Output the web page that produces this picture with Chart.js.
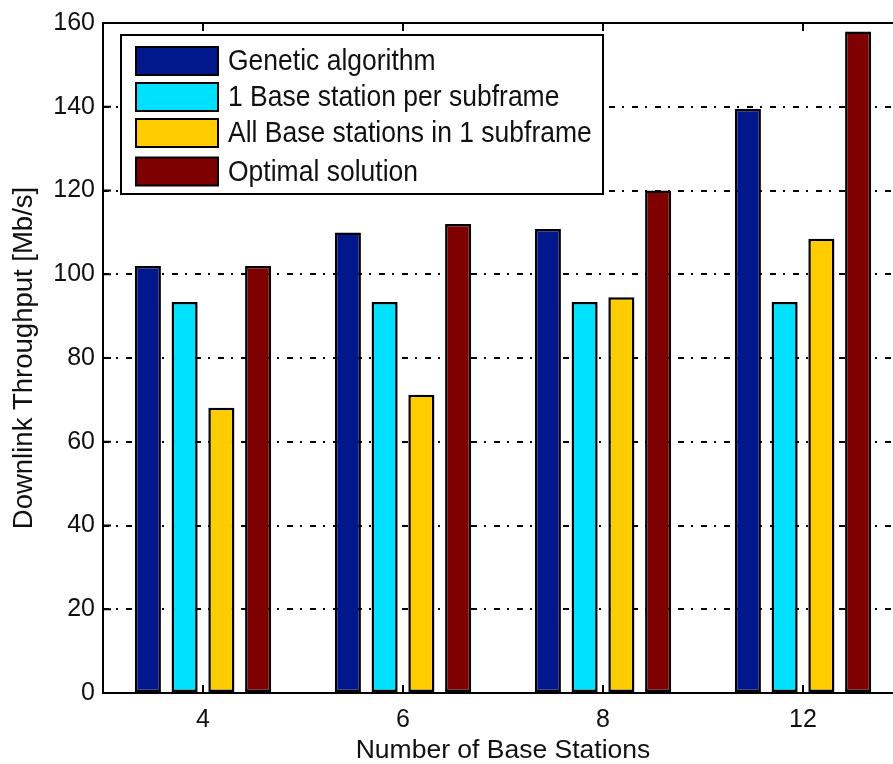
<!DOCTYPE html>
<html>
<head>
<meta charset="utf-8">
<script src="https://cdn.jsdelivr.net/npm/chart.js@4/dist/chart.umd.min.js"></script>
<style>
html,body{margin:0;padding:0;background:#fff;overflow:hidden;width:893px;height:764px;}
#wrap{position:absolute;left:0;top:0;width:905px;height:764px;}
</style>
</head>
<body>
<div id="wrap"><canvas id="c"></canvas></div>
<script>
const categories = ['4', '6', '8', '12'];
const seriesNames = ['Genetic algorithm', '1 Base station per subframe', 'All Base stations in 1 subframe', 'Optimal solution'];
const geneticAlgorithm = [102, 110, 110.8, 139.5];
const oneBasePerSubframe = [93.4, 93.4, 93.4, 93.4];
const allBaseInOneSubframe = [68.1, 71.2, 94.5, 108.5];
const optimalSolution = [102, 112, 120, 158];
const yTicks = [0, 20, 40, 60, 80, 100, 120, 140, 160];
const colors = ['#00188C', '#00E1FF', '#FFCC00', '#7F0000'];
const xTitle = 'Number of Base Stations';
const yTitle = 'Downlink Throughput [Mb/s]';

const FONT = "'Liberation Sans', Arial, Helvetica, sans-serif";
const seriesData = [geneticAlgorithm, oneBasePerSubframe, allBaseInOneSubframe, optimalSolution];

const framePlugin = {
  id: 'frame',
  afterDatasetsDraw(chart) {
    const ctx = chart.ctx, a = chart.chartArea;
    const xs = chart.scales.x, ys = chart.scales.y;
    ctx.save();
    ctx.strokeStyle = '#000';
    ctx.lineWidth = 2;
    ctx.setLineDash([]);
    ctx.strokeRect(a.left, a.top, a.right - a.left, a.bottom - a.top);
    ctx.beginPath();
    yTicks.forEach(v => {
      const y = ys.getPixelForValue(v);
      ctx.moveTo(a.left, y); ctx.lineTo(a.left + 8, y);
      ctx.moveTo(a.right, y); ctx.lineTo(a.right - 8, y);
    });
    categories.forEach((c, i) => {
      const x = xs.getPixelForTick(i);
      ctx.moveTo(x, a.bottom); ctx.lineTo(x, a.bottom - 8);
      ctx.moveTo(x, a.top); ctx.lineTo(x, a.top + 8);
    });
    ctx.stroke();
    ctx.restore();
  }
};

const legendPlugin = {
  id: 'boxLegend',
  afterDraw(chart) {
    const ctx = chart.ctx;
    const bx = 121, by = 35, bw = 482, bh = 159;
    ctx.save();
    ctx.fillStyle = '#fff';
    ctx.fillRect(bx, by, bw, bh);
    ctx.strokeStyle = '#000';
    ctx.lineWidth = 2;
    ctx.strokeRect(bx, by, bw, bh);
    const rows = [61, 97, 133, 171.5];
    chart.data.datasets.forEach((ds, i) => {
      const cy = rows[i];
      ctx.fillStyle = ds.backgroundColor;
      ctx.fillRect(136, cy - 14, 82, 28);
      ctx.lineWidth = 2;
      ctx.strokeStyle = '#000';
      ctx.strokeRect(136, cy - 14, 82, 28);
      ctx.fillStyle = '#111';
      ctx.font = '26.5px ' + FONT;
      ctx.textBaseline = 'middle';
      ctx.textAlign = 'left';
      ctx.save();
      ctx.translate(228, cy + 1);
      ctx.scale(1, 1.1);
      ctx.fillText(ds.label, 0, 0);
      ctx.restore();
    });
    ctx.restore();
  }
};

new Chart(document.getElementById('c'), {
  type: 'bar',
  data: {
    labels: categories,
    datasets: seriesNames.map((n, i) => ({
      label: n,
      data: seriesData[i],
      backgroundColor: colors[i],
      borderColor: '#000',
      borderWidth: 2.5,
      borderSkipped: false,
      categoryPercentage: 0.735,
      barPercentage: 0.71
    }))
  },
  options: {
    responsive: true,
    maintainAspectRatio: false,
    animation: false,
    devicePixelRatio: 1,
    layout: { padding: { top: 21, right: 2, left: 0, bottom: 0 } },
    plugins: { legend: { display: false }, tooltip: { enabled: false } },
    scales: {
      x: {
        grid: { display: false, drawTicks: false },
        border: { display: false },
        ticks: { color: '#111', font: { family: FONT, size: 25 }, padding: 12 },
        title: { display: true, text: xTitle, color: '#111', font: { family: FONT, size: 26.5, lineHeight: 1.02 }, padding: 0 },
        afterFit(s) { s.height = 71; }
      },
      y: {
        min: 0, max: 160,
        afterBuildTicks(s) { s.ticks = yTicks.map(v => ({ value: v })); },
        grid: {
          drawTicks: false,
          lineWidth: 2,
          color: c => (c.tick && (c.tick.value === 0 || c.tick.value === 160)) ? 'rgba(0,0,0,0)' : '#000'
        },
        border: { display: false, dash: [6, 7, 2, 8] },
        ticks: { color: '#111', font: { family: FONT, size: 25 }, padding: 8 },
        title: { display: true, text: yTitle, color: '#111', font: { family: FONT, size: 27.5, lineHeight: 1.8 }, padding: 0 },
        afterFit(s) { s.width = 103; }
      }
    }
  },
  plugins: [framePlugin, legendPlugin]
});
</script>
</body>
</html>
